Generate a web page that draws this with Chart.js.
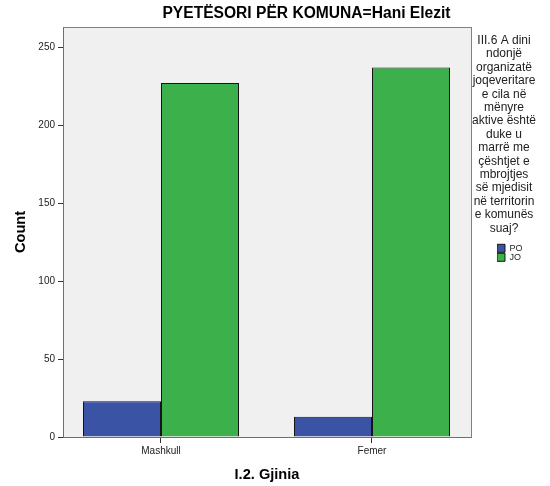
<!DOCTYPE html>
<html><head><meta charset="utf-8">
<script src="https://cdn.jsdelivr.net/npm/chart.js@4"></script>
<style>html,body{margin:0;padding:0;background:#fff}#wrap{width:550px;height:486px}</style>
</head><body><div id="wrap"><canvas id="c" width="550" height="486"></canvas></div>
<script>
const categories = ['Mashkull', 'Femer'];
const seriesNames = ['PO', 'JO'];
const poValues = [23, 13];
const joValues = [227, 237];
const yTickValues = [0, 50, 100, 150, 200, 250];
const chartTitle = 'PYETËSORI PËR KOMUNA=Hani Elezit';
const xAxisTitle = 'I.2. Gjinia';
const yAxisTitle = 'Count';
const legendTitleLines = ['III.6 A dini', 'ndonjë', 'organizatë', 'joqeveritare', 'e cila në', 'mënyre', 'aktive është', 'duke u', 'marrë me', 'çështjet e', 'mbrojtjes', 'së mjedisit', 'në territorin', 'e komunës', 'suaj?'];

const FONT = '"Liberation Sans", Arial, sans-serif';
Chart.defaults.font.family = FONT;
Chart.defaults.color = '#222';

const textPlugin = {
  id: 'spssText',
  beforeDraw(chart) {
    const {ctx, chartArea: a} = chart;
    ctx.save();
    ctx.fillStyle = '#f0f0f0';
    ctx.fillRect(a.left, a.top, a.right - a.left, a.bottom - a.top);
    ctx.strokeStyle = '#808080';
    ctx.lineWidth = 1;
    ctx.strokeRect(Math.round(a.left) + 0.5, Math.round(a.top) + 0.5, Math.round(a.right - a.left), Math.round(a.bottom - a.top));
    ctx.restore();
  },
  afterDraw(chart) {
    const {ctx, chartArea: a} = chart;
    ctx.save();
    ctx.fillStyle = '#000';
    ctx.textAlign = 'center';
    ctx.textBaseline = 'middle';
    ctx.font = 'bold 15.6px ' + FONT;
    ctx.fillText(chartTitle, (a.left + chart.width) / 2, 14);
    ctx.fillStyle = '#222';
    ctx.font = '12px ' + FONT;
    legendTitleLines.forEach((t, i) => ctx.fillText(t, 504, 40.7 + i * 13.4));
    ctx.restore();
  }
};

const chart = new Chart(document.getElementById('c'), {
  type: 'bar',
  data: {
    datasets: [
      { label: seriesNames[0], data: poValues.map((v, i) => ({x: i, y: v})), backgroundColor: '#3a53a4', borderColor: '#151515', borderWidth: 1, categoryPercentage: 0.73934, barPercentage: 1.0 },
      { label: seriesNames[1], data: joValues.map((v, i) => ({x: i, y: v})), backgroundColor: '#3cb04a', borderColor: '#151515', borderWidth: 1, categoryPercentage: 0.73934, barPercentage: 1.0 }
    ]
  },
  options: {
    responsive: false,
    animation: false,
    devicePixelRatio: 1,
    layout: { padding: { top: 27, left: 0, bottom: 0, right: 17.5 } },
    plugins: {
      title: { display: false },
      tooltip: { enabled: false },
      legend: {
        position: 'right', align: 'start',
        labels: { boxWidth: 8, boxHeight: 8, padding: 0, font: { size: 9 }, color: '#222' },
        title: { display: true, text: '', font: { size: 1 }, padding: { top: 0, bottom: 215.6 } }
      }
    },
    scales: {
      x: {
        type: 'linear', min: -0.46445, max: 1.46919, offset: false,
        afterBuildTicks: s => { s.ticks = categories.map((_, i) => ({value: i})); },
        afterFit: s => { s.height = 49; },
        ticks: { stepSize: 1, includeBounds: false, autoSkip: false, maxRotation: 0, padding: 2, font: { size: 10 }, color: '#222', callback: v => categories[v] ?? '' },
        grid: { display: true, offset: false, drawOnChartArea: false, drawTicks: true, tickLength: 6, color: '#333' },
        border: { display: true, color: '#6e6e6e', width: 1 },
        title: { display: true, text: xAxisTitle, color: '#000', font: { size: 14.6, weight: 'bold' }, padding: { top: 0, bottom: 2 } }
      },
      y: {
        min: 0, max: 263,
        afterBuildTicks: s => { s.ticks = yTickValues.map(v => ({value: v})); },
        afterFit: s => { s.width = 63; },
        ticks: { stepSize: 50, includeBounds: false, padding: 3, font: { size: 10 }, color: '#222' },
        grid: { display: true, drawOnChartArea: false, drawTicks: true, tickLength: 5, color: '#333' },
        border: { display: true, color: '#6e6e6e', width: 1 },
        title: { display: true, text: yAxisTitle, color: '#000', font: { size: 14.6, weight: 'bold' }, padding: { top: 12, bottom: 0 } }
      },
      y2: {
        type: 'linear', axis: 'y', position: 'right', display: true,
        afterFit: s => { s.width = 26; },
        ticks: { display: false }, grid: { display: false }, border: { display: false }
      }
    }
  },
  plugins: [textPlugin]
});
</script></body></html>
